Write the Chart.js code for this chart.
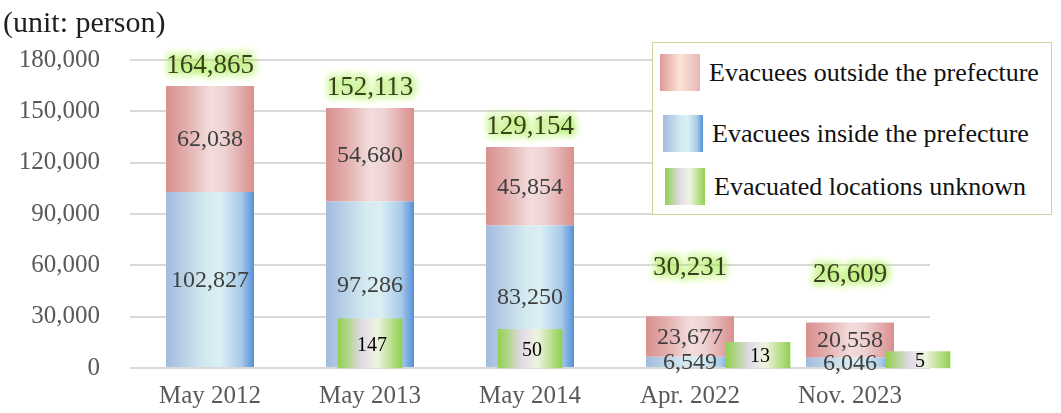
<!DOCTYPE html>
<html lang="en">
<head>
<meta charset="utf-8">
<title>Evacuees</title>
<script src="https://cdn.jsdelivr.net/npm/chart.js@4.4.1/dist/chart.umd.min.js"></script>
<style>
  html, body { margin:0; padding:0; background:#fff; }
  #wrap { position:relative; width:1061px; height:413px; overflow:hidden; }
  #chart { position:absolute; left:0; top:0; }
  #legend { position:absolute; left:652px; top:42px; width:400px; height:173px; box-sizing:border-box;
            border:1.5px solid #c4d79b; background:#fff;
            font-family:"Liberation Serif","Times New Roman",serif; font-size:26px; color:#111; }
  .lg-item { position:absolute; height:37px; display:flex; align-items:center; white-space:nowrap; }
  .lg-sw { width:40px; height:37px; flex:none; margin-right:9px; }
</style>
</head>
<body>
<div id="wrap">
  <canvas id="chart" width="1061" height="413"></canvas>
  <div id="legend"></div>
</div>
<script>
// ---- data ----
const categories   = ['May 2012', 'May 2013', 'May 2014', 'Apr. 2022', 'Nov. 2023'];
const insidePref   = [102827, 97286, 83250, 6549, 6046];
const outsidePref  = [62038, 54680, 45854, 23677, 20558];
const unknownLoc   = [null, 147, 50, 13, 5];
const totalLabels  = [164865, 152113, 129154, 30231, 26609];
const yTickMax  = 180000;
const yTickStep = 30000;
const unitLabel = '(unit: person)';
const seriesNames = ['Evacuees inside the prefecture', 'Evacuees outside the prefecture', 'Evacuated locations unknown'];

// ---- style ----
const FONT = '"Liberation Serif", "Times New Roman", serif';
const CAT_PCT = 0.55;
const GREEN_W = 64;
const BESIDE_SHIFT = 0.425;            // in category units
const BESIDE_THRESHOLD = 30000;        // short stacks get the "unknown" bar beside them
const BLUE_STOPS  = [[0,'#a2bbdf'],[0.45,'#d4eaf1'],[0.62,'#d9eff3'],[0.85,'#a9cbe9'],[1,'#5690d8']];
const PINK_STOPS  = [[0,'#d9908f'],[0.22,'#e2acab'],[0.5,'#f2dcdc'],[0.66,'#efd3d3'],[1,'#d98e8d']];
const GREEN_STOPS = [[0,'#92d050'],[0.38,'#e3dbe8'],[0.62,'#eef4df'],[1,'#92d050']];
const LEGEND_PINK = [[0,'#db9a98'],[0.5,'#fce4d6'],[1,'#e6b8b7']];

const beside = i => insidePref[i] < BESIDE_THRESHOLD;
const fmt = v => v.toLocaleString('en-US');

function hGrad(ctx, stops, cx, w) {
  const g = ctx.createLinearGradient(cx - w / 2, 0, cx + w / 2, 0);
  stops.forEach(([o, c]) => g.addColorStop(o, c));
  return g;
}
function stackFill(stops) {
  return (c) => {
    const ch = c.chart;
    if (!ch.chartArea || c.dataIndex === undefined) return stops[1][1];
    const xs = ch.scales.x;
    const w = xs.width / categories.length * CAT_PCT;
    return hGrad(ch.ctx, stops, xs.getPixelForValue(c.dataIndex), w);
  };
}
function greenFill(c) {
  const ch = c.chart;
  if (!ch.chartArea || c.dataIndex === undefined || !c.parsed) return GREEN_STOPS[0][1];
  return hGrad(ch.ctx, GREEN_STOPS, ch.scales.xg.getPixelForValue(c.parsed.x), GREEN_W);
}

const unknownPoints = unknownLoc
  .map((v, i) => v == null ? null : { x: i + (beside(i) ? BESIDE_SHIFT : 0), y: v })
  .filter(p => p !== null);

const labelPlugin = {
  id: 'valueLabels',
  afterDatasetsDraw(chart) {
    const ctx = chart.ctx;
    ctx.save();
    ctx.textAlign = 'center';
    ctx.textBaseline = 'middle';
    // segment labels
    [0, 1].forEach(di => {
      const meta = chart.getDatasetMeta(di);
      const vals = chart.data.datasets[di].data;
      meta.data.forEach((el, i) => {
        if (vals[i] == null) return;
        ctx.font = '24px ' + FONT;
        ctx.fillStyle = '#404040';
        ctx.fillText(fmt(vals[i]), el.x, (el.y + el.base) / 2 + 1);
      });
    });
    // unknown labels
    const gm = chart.getDatasetMeta(2);
    gm.data.forEach((el, k) => {
      ctx.font = '20px ' + FONT;
      ctx.fillStyle = '#000';
      ctx.fillText(fmt(unknownPoints[k].y), el.x + 2, (el.y + el.base) / 2 + 2);
    });
    // totals with glow
    const top = chart.getDatasetMeta(1);
    top.data.forEach((el, i) => {
      const y = el.y - (beside(i) ? 48 : 20);
      ctx.font = '27px ' + FONT;
      ctx.shadowColor = 'rgba(175,235,95,1)';
      ctx.shadowBlur = 10;
      ctx.fillStyle = '#d8f5a8';
      for (let r = 0; r < 4; r++) ctx.fillText(fmt(totalLabels[i]), el.x, y);
      ctx.shadowBlur = 0;
      ctx.shadowColor = 'transparent';
      ctx.fillStyle = '#36421f';
      ctx.fillText(fmt(totalLabels[i]), el.x, y);
    });
    ctx.restore();
  }
};

Chart.defaults.font.family = FONT;

const chart = new Chart(document.getElementById('chart'), {
  type: 'bar',
  data: {
    labels: categories,
    datasets: [
      { label: seriesNames[0], data: insidePref, backgroundColor: stackFill(BLUE_STOPS),
        categoryPercentage: CAT_PCT, barPercentage: 1, order: 1, stack: 's', grouped: false },
      { label: seriesNames[1], data: outsidePref, backgroundColor: stackFill(PINK_STOPS),
        categoryPercentage: CAT_PCT, barPercentage: 1, order: 1, stack: 's', grouped: false },
      { label: seriesNames[2], data: unknownPoints, backgroundColor: greenFill,
        xAxisID: 'xg', yAxisID: 'yg', barThickness: GREEN_W, order: 0, stack: 'u', grouped: false,
        clip: false }
    ]
  },
  options: {
    responsive: false,
    animation: false,
    devicePixelRatio: 1,
    layout: { padding: { left: 3, right: 131, top: 0, bottom: 0 } },
    plugins: {
      legend: { display: false },
      tooltip: { enabled: false },
      title: { display: true, text: unitLabel, align: 'start', color: '#1f1f1f',
               font: { size: 30, family: FONT, weight: 'normal' }, padding: { top: 6, bottom: 18 } }
    },
    scales: {
      x: {
        stacked: true,
        grid: { display: false, drawTicks: false },
        border: { display: false },
        ticks: { color: '#595959', font: { size: 25 }, padding: 13, maxRotation: 0, autoSkip: false },
        afterFit: s => { s.height = 41; }
      },
      y: {
        stacked: true,
        min: 0, max: yTickMax,
        grid: { color: '#d9d9d9', lineWidth: 2, drawTicks: false },
        border: { display: false },
        ticks: { stepSize: yTickStep, color: '#595959', font: { size: 25 }, padding: 30,
                 callback: v => fmt(v) },
        afterFit: s => { s.width = 127; }
      },
      xg: { type: 'linear', display: false, offset: false, grid: { offset: false },
            min: -0.5, max: categories.length - 0.5 },
      yg: { type: 'logarithmic', display: false, min: 0.9, max: 6.6e13, bounds: 'data' }
    }
  },
  plugins: [labelPlugin]
});

// ---- HTML legend built from the datasets ----
(function buildLegend() {
  const order = [1, 0, 2];
  const stopsFor = [BLUE_STOPS, LEGEND_PINK, GREEN_STOPS];
  const tops = [11, 72, 125];
  const lefts = [7, 10, 12];
  const box = document.getElementById('legend');
  order.forEach((di, k) => {
    const ds = chart.data.datasets[di];
    const item = document.createElement('div');
    item.className = 'lg-item';
    item.style.top = tops[k] + 'px';
    item.style.left = lefts[k] + 'px';
    const sw = document.createElement('div');
    sw.className = 'lg-sw';
    sw.style.background = 'linear-gradient(to right,' +
      stopsFor[di].map(([o, c]) => c + ' ' + Math.round(o * 100) + '%').join(',') + ')';
    const tx = document.createElement('span');
    tx.textContent = ds.label;
    item.appendChild(sw);
    item.appendChild(tx);
    box.appendChild(item);
  });
})();
</script>
</body>
</html>
